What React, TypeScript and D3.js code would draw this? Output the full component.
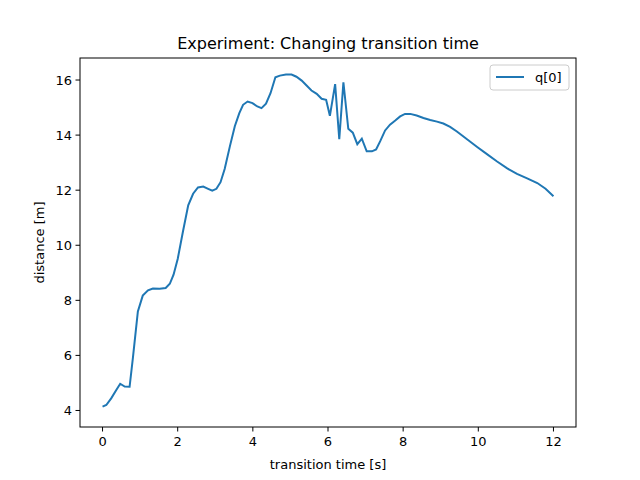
import React from "react";
import * as d3 from "d3";

const times = [0,0.1,0.23,0.37,0.47,0.59,0.72,0.81,0.94,1.07,1.21,1.34,1.52,1.68,1.79,1.89,2.0,2.14,2.28,2.41,2.54,2.68,2.81,2.92,3.03,3.14,3.25,3.39,3.52,3.64,3.74,3.86,3.99,4.12,4.23,4.35,4.47,4.6,4.72,4.88,5.03,5.16,5.3,5.43,5.56,5.7,5.83,5.95,6.05,6.19,6.3,6.41,6.54,6.66,6.78,6.9,7.03,7.17,7.28,7.39,7.52,7.65,7.79,7.92,8.05,8.19,8.36,8.54,8.72,8.9,9.07,9.25,9.43,9.7,9.97,10.23,10.5,10.77,11.03,11.3,11.57,11.79,12.0];
const distances = [4.14,4.2,4.44,4.75,4.97,4.87,4.86,5.94,7.6,8.17,8.36,8.43,8.42,8.45,8.6,8.93,9.5,10.5,11.45,11.87,12.1,12.13,12.05,11.98,12.05,12.29,12.77,13.6,14.32,14.8,15.1,15.22,15.16,15.04,14.98,15.14,15.52,16.1,16.16,16.2,16.2,16.12,15.98,15.8,15.62,15.5,15.32,15.28,14.7,15.85,13.85,15.92,14.23,14.09,13.67,13.87,13.41,13.41,13.48,13.78,14.17,14.38,14.53,14.68,14.77,14.77,14.71,14.62,14.55,14.49,14.42,14.3,14.13,13.85,13.57,13.31,13.04,12.79,12.59,12.43,12.26,12.05,11.78];
const xTicks = [0,2,4,6,8,10,12];
const yTicks = [4,6,8,10,12,14,16];

export default function App() {
  const L = 80, R = 576, T = 58, B = 427;
  const x = d3.scaleLinear().domain([-0.6, 12.6]).range([L, R]);
  const y = d3.scaleLinear().domain([3.4, 16.8]).range([B, T]);
  const line = d3.line<number>().x((_, i) => x(times[i])).y(d => y(d));
  const font = "DejaVu Sans, sans-serif";
  return (
    <svg width={640} height={480} style={{ position: "absolute", left: 0, top: 0 }} fontFamily={font}>
      <rect width={640} height={480} fill="white" />
      <text x={(L + R) / 2} y={49} textAnchor="middle" fontSize={16}>Experiment: Changing transition time</text>
      <path d={line(distances) || ""} fill="none" stroke="#1f77b4" strokeWidth={2} />
      <rect x={L} y={T} width={R - L} height={B - T} fill="none" stroke="black" strokeWidth={1} />
      {xTicks.map(t => (
        <g key={t}>
          <line x1={x(t)} x2={x(t)} y1={B} y2={B + 4.5} stroke="black" />
          <text x={x(t)} y={B + 19} textAnchor="middle" fontSize={13}>{t}</text>
        </g>
      ))}
      {yTicks.map(t => (
        <g key={t}>
          <line x1={L - 4.5} x2={L} y1={y(t)} y2={y(t)} stroke="black" />
          <text x={L - 8} y={y(t) + 4.5} textAnchor="end" fontSize={13}>{t}</text>
        </g>
      ))}
      <text x={(L + R) / 2} y={469} textAnchor="middle" fontSize={13}>transition time [s]</text>
      <text transform={`translate(44,${(T + B) / 2}) rotate(-90)`} textAnchor="middle" fontSize={13}>distance [m]</text>
      <rect x={490} y={65} width={79} height={25} rx={3} fill="white" stroke="#ccc" />
      <line x1={496} x2={524} y1={77} y2={77} stroke="#1f77b4" strokeWidth={2} />
      <text x={535} y={82} fontSize={13}>q[0]</text>
    </svg>
  );
}
